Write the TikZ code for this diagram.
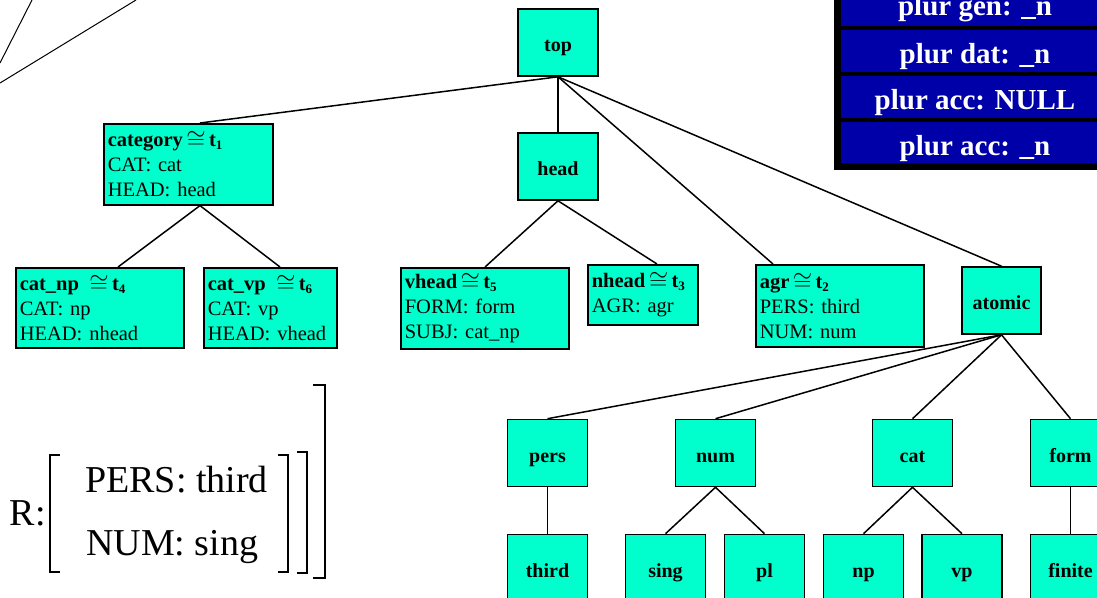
\documentclass[tikz,border=0pt]{standalone}
\usepackage{fontspec}
\setmainfont{Liberation Serif}
\definecolor{tq}{RGB}{0,255,204}
\definecolor{pblue}{RGB}{0,0,168}
\tikzset{
  box/.style={draw=black, line width=1.6pt, fill=tq, inner sep=0pt},
  lbl/.style={box, minimum width=80pt, minimum height=67pt, text height=18pt, text depth=0pt, font=\fontsize{20}{24}\selectfont\bfseries},
  fs/.style={box, anchor=north west, align=left, inner xsep=4pt, inner ysep=0pt, font=\fontsize{20.5}{25}\selectfont},
  edge/.style={line width=1.5pt},
  ptxt/.style={text=white, font=\fontsize{29}{35}\selectfont\bfseries, anchor=base, inner sep=0pt},
  big/.style={font=\fontsize{38}{46}\selectfont, inner sep=0pt},
  brk/.style={line width=1.6pt},
  thin/.style={line width=1pt}
}
\newcommand{\iso}[1]{\,\raisebox{-1.6pt}{\scalebox{1.2}{$\cong$}}\,\textbf{t}\raisebox{-0.3ex}{\fontsize{13}{13}\selectfont\bfseries #1}}
\begin{document}
\begin{tikzpicture}[x=1pt,y=-1pt]
\path[use as bounding box] (0,0) rectangle (1097,597);
\clip (0,0) rectangle (1097,597);

% stray lines top-left
\draw[thin] (0,63) -- (32,0);
\draw[thin] (0,83) -- (136,0);

% blue panel
\fill[black] (834,-5) rectangle (1100,170);
\fill[pblue] (841,-5) rectangle (1100,26);
\fill[pblue] (841,29.5) rectangle (1100,72);
\fill[pblue] (841,76) rectangle (1100,118);
\fill[pblue] (841,122) rectangle (1100,163);
\node[ptxt] (g1) at (975,16) {plur gen: \_n};
\node[ptxt] (g2) at (975,63) {plur dat: \_n};
\node[ptxt] (g3) at (975,109) {plur acc: NULL};
\node[ptxt] (g4) at (975,155) {plur acc: \_n};

% simple nodes
\node[lbl] (top) at (558,42.5) {top};
\node[lbl] (head) at (558,166.5) {head};
\node[lbl, minimum width=79pt] (atomic) at (1001.5,300.5) {atomic};
\node[lbl] (pers) at (547.5,453) {pers};
\node[lbl] (num) at (715.5,453) {num};
\node[lbl] (cat) at (912.5,453) {cat};
\node[lbl] (form) at (1070.5,453) {form};
\node[lbl] (third) at (547.5,568) {third};
\node[lbl] (sing) at (665.5,568) {sing};
\node[lbl] (pl) at (764.5,568) {pl};
\node[lbl] (np) at (863.5,568) {np};
\node[lbl] (vp) at (962,568) {vp};
\node[lbl] (finite) at (1070.5,568) {finite};

% feature boxes
\node[fs, text width=161pt, minimum height=81pt] (category) at (103,123) {\textbf{category}\iso{1}\\CAT: cat\\HEAD: head};
\node[fs, text width=160pt, minimum height=80pt] (catnp) at (15,267) {\textbf{cat\_np}\ \iso{4}\\CAT: np\\HEAD: nhead};
\node[fs, text width=125pt, minimum height=80pt] (catvp) at (203,267) {\textbf{cat\_vp}\ \iso{6}\\CAT: vp\\HEAD: vhead};
\node[fs, text width=160pt, minimum height=81pt] (vhead) at (400,267) {\textbf{vhead}\iso{5}\\FORM: form\\SUBJ: cat\_np};
\node[fs, text width=102pt, minimum height=60pt] (nhead) at (587,264) {\textbf{nhead}\iso{3}\\AGR: agr};
\node[fs, text width=160pt, minimum height=82pt] (agr) at (755,264) {\textbf{agr}\iso{2}\\PERS: third\\NUM: num};

% edges
\draw[edge] (top.south) -- ([xshift=97pt]category.north west);
\draw[edge] (top.south) -- (head.north);
\draw[edge] (top.south) -- ([xshift=18pt]agr.north west);
\draw[edge] (top.south) -- (atomic.north);
\draw[edge] ([xshift=97pt]category.south west) -- ([xshift=103pt]catnp.north west);
\draw[edge] ([xshift=97pt]category.south west) -- ([xshift=77pt]catvp.north west);
\draw[edge] (head.south) -- ([xshift=85pt]vhead.north west);
\draw[edge] (head.south) -- ([xshift=70pt]nhead.north west);
\draw[edge] (atomic.south) -- (pers.north);
\draw[edge] (atomic.south) -- (num.north);
\draw[edge] (atomic.south) -- (cat.north);
\draw[edge] (atomic.south) -- (form.north);
\draw[edge] (pers.south) -- (third.north);
\draw[edge] (num.south) -- (sing.north);
\draw[edge] (num.south) -- (pl.north);
\draw[edge] (cat.south) -- (np.north);
\draw[edge] (cat.south) -- (vp.north);
\draw[edge] (form.south) -- (finite.north);

% feature structure fragment
\node[big, anchor=base east] (rlab) at (46,525) {R:};
\node[big, anchor=base west] (pv) at (85,492) {PERS: third};
\node[big, anchor=base west] (nv) at (86,555) {NUM: sing};
\draw[brk] (60,455) -- (50,455) -- (50,572) -- (60,572);
\draw[brk] (278,455) -- (288,455) -- (288,572) -- (278,572);
\draw[brk] (297,452) -- (307,452) -- (307,573) -- (297,573);
\draw[brk] (313,385) -- (325,385) -- (325,578) -- (313,578);
\end{tikzpicture}
\end{document}
